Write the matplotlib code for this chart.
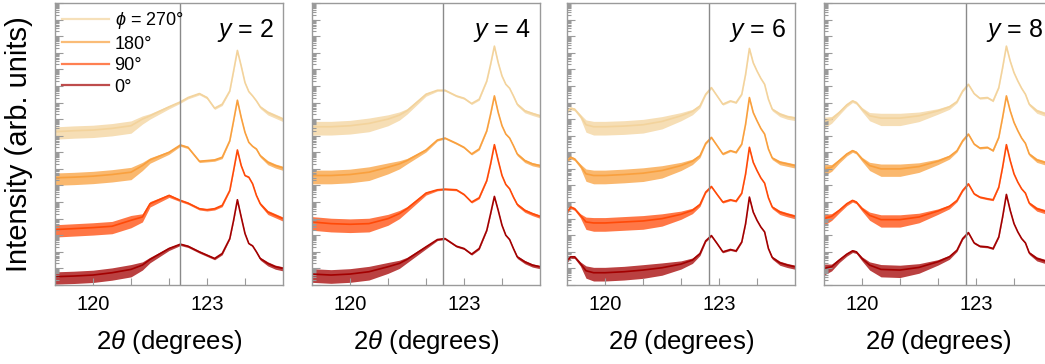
import numpy as np
import matplotlib
matplotlib.use('Agg')
import matplotlib.pyplot as plt
from matplotlib.ticker import LogLocator, NullFormatter, FixedLocator
from matplotlib.lines import Line2D

plt.rcParams['font.family'] = ['Liberation Sans', 'DejaVu Sans']
plt.rcParams['mathtext.fontset'] = 'custom'
plt.rcParams['mathtext.it'] = 'Liberation Sans:italic'
plt.rcParams['mathtext.rm'] = 'Liberation Sans'

phi_labels = [r'$\phi$ = 270°', '180°', '90°', '0°']
colors = ['#F3D39C', '#F9A03E', '#FF4A08', '#A30000']
y_values = [2, 4, 6, 8]
ref_lines = [122.28, 122.44, 122.74, 122.74]

# 2theta grids (degrees)
two_theta_a = [119.0, 119.5, 120.0, 120.5, 121.0, 121.3, 121.5, 122.0, 122.3, 122.5,
               122.8, 123.0, 123.2, 123.4, 123.6, 123.7, 123.8, 123.9, 124.0, 124.1,
               124.2, 124.3, 124.4, 124.6, 124.8, 125.0]
two_theta_b = [119.0, 119.1, 119.2, 119.35, 119.5, 119.7, 120.0, 120.5, 121.0, 121.5,
               122.0, 122.3, 122.5, 122.65, 122.8, 122.95, 123.1, 123.3, 123.45, 123.6,
               123.7, 123.8, 123.9, 124.0, 124.1, 124.2, 124.3, 124.4, 124.6, 124.8, 125.0]
two_theta_c = [119.0, 119.2, 119.4, 119.6, 119.75, 119.85, 120.0, 120.2, 120.5, 121.0,
               121.5, 122.0, 122.3, 122.5, 122.65, 122.8, 122.95, 123.1, 123.3, 123.45,
               123.6, 123.7, 123.8, 123.9, 124.0, 124.1, 124.2, 124.3, 124.4, 124.6,
               124.8, 125.0]

# log10 intensity (offset stacks), phi = 270, 180, 90, 0
y2_270 = [9.24, 9.30, 9.34, 9.44, 9.60, 10.00, 10.20, 10.74, 11.04, 11.30, 11.54, 11.30, 10.66,
          10.90, 11.70, 12.90, 14.14, 13.20, 12.20, 11.66, 11.40, 11.10, 10.74, 10.40, 10.20, 10.00]
y2_180 = [6.46, 6.50, 6.56, 6.66, 6.80, 7.20, 7.54, 8.00, 8.44, 8.30, 7.46, 7.50, 7.54,
          7.70, 8.70, 9.90, 11.14, 10.10, 9.20, 8.60, 8.36, 8.20, 7.80, 7.40, 7.20, 7.06]
y2_90 = [3.34, 3.40, 3.46, 3.54, 3.90, 4.10, 4.90, 5.40, 5.10, 4.94, 4.60, 4.54, 4.60,
         4.80, 5.70, 6.90, 8.14, 7.20, 6.60, 6.50, 6.10, 5.40, 4.90, 4.40, 4.20, 4.00]
y2_0 = [0.50, 0.54, 0.60, 0.74, 0.94, 1.20, 1.54, 2.20, 2.46, 2.34, 2.00, 1.80, 1.60,
        1.90, 2.80, 3.90, 5.14, 4.10, 3.10, 2.50, 2.36, 2.00, 1.60, 1.30, 1.10, 1.00]
noise_y2 = [0.45, 0.45, 0.45, 0.45, 0.45, 0.3, 0.2, 0.12, 0.08, 0.08, 0.08, 0.08, 0.08,
            0.08, 0.04, 0.04, 0.04, 0.04, 0.04, 0.04, 0.04, 0.06, 0.1, 0.15, 0.15, 0.15]

y4_270 = [9.54, 9.54, 9.60, 9.74, 10.00, 10.24, 10.50, 11.50, 11.74, 11.74, 11.40, 11.26, 10.94,
          11.20, 12.30, 13.30, 14.40, 13.40, 12.60, 12.10, 11.86, 11.40, 10.90, 10.50, 10.34, 10.20]
y4_180 = [6.60, 6.60, 6.66, 6.80, 7.10, 7.30, 7.50, 8.14, 8.74, 8.86, 8.54, 8.30, 7.90,
          8.20, 9.30, 10.30, 11.40, 10.40, 9.60, 9.10, 8.86, 8.40, 7.90, 7.50, 7.30, 7.20]
y4_90 = [3.80, 3.70, 3.66, 3.70, 4.00, 4.30, 4.60, 5.54, 5.74, 5.78, 5.74, 5.46, 5.00,
         5.26, 6.30, 7.30, 8.46, 7.50, 6.60, 6.06, 5.80, 5.30, 4.86, 4.50, 4.30, 4.14]
y4_0 = [0.66, 0.60, 0.66, 0.80, 1.10, 1.30, 1.54, 2.30, 2.74, 2.80, 2.34, 2.20, 1.86,
        2.20, 3.30, 4.30, 5.34, 4.50, 3.60, 3.00, 2.74, 2.20, 1.70, 1.40, 1.20, 1.10]
noise_y4 = [0.5, 0.5, 0.5, 0.5, 0.4, 0.3, 0.2, 0.12, 0.06, 0.06, 0.06, 0.06, 0.06,
            0.06, 0.04, 0.04, 0.04, 0.04, 0.04, 0.04, 0.04, 0.06, 0.1, 0.12, 0.12, 0.12]

y6_270 = [10.46, 10.66, 10.60, 10.20, 9.66, 9.54, 9.54, 9.58, 9.66, 9.86, 10.20, 10.46, 10.80,
          11.50, 11.90, 11.40, 10.90, 11.10, 11.00, 11.50, 12.70, 14.26, 13.40, 12.90, 12.46,
          12.10, 11.20, 10.60, 10.30, 10.14, 10.06]
y6_180 = [7.50, 7.70, 7.60, 7.20, 6.70, 6.60, 6.60, 6.66, 6.74, 6.90, 7.20, 7.46, 7.80,
          8.54, 8.90, 8.40, 7.90, 8.10, 8.00, 8.50, 9.70, 11.30, 10.40, 9.90, 9.44,
          9.10, 8.20, 7.66, 7.40, 7.30, 7.20]
y6_90 = [4.40, 4.70, 4.60, 4.20, 3.80, 3.74, 3.74, 3.80, 3.86, 4.00, 4.26, 4.50, 4.86,
         5.60, 5.94, 5.46, 5.00, 5.14, 5.06, 5.54, 6.70, 8.30, 7.40, 6.90, 6.46,
         6.14, 5.26, 4.70, 4.40, 4.26, 4.14]
y6_0 = [1.46, 1.70, 1.70, 1.30, 0.86, 0.74, 0.74, 0.80, 0.90, 1.04, 1.26, 1.50, 1.90,
        2.66, 2.98, 2.50, 2.00, 2.14, 2.06, 2.60, 3.70, 5.30, 4.40, 3.90, 3.50,
        3.20, 2.20, 1.66, 1.34, 1.20, 1.10]
noise_y6 = [0.1, 0.1, 0.1, 0.15, 0.45, 0.5, 0.5, 0.5, 0.5, 0.45, 0.3, 0.2, 0.12,
            0.06, 0.06, 0.06, 0.06, 0.06, 0.06, 0.04, 0.04, 0.04, 0.04, 0.04, 0.04,
            0.04, 0.06, 0.1, 0.15, 0.15, 0.15]

y8_270 = [9.86, 10.00, 10.40, 10.86, 11.10, 11.00, 10.60, 10.20, 10.06, 10.06, 10.20, 10.50,
          10.74, 11.06, 11.70, 12.10, 11.54, 11.26, 11.30, 11.10, 11.90, 13.10, 14.40, 13.50,
          12.80, 12.30, 11.86, 11.50, 10.90, 10.50, 10.34, 10.26]
y8_180 = [7.00, 7.10, 7.50, 7.90, 8.10, 8.00, 7.60, 7.20, 7.00, 7.00, 7.14, 7.46,
          7.74, 8.10, 8.70, 9.10, 8.50, 8.26, 8.30, 8.10, 8.90, 10.10, 11.40, 10.50,
          9.80, 9.30, 8.86, 8.54, 7.90, 7.54, 7.40, 7.20]
y8_90 = [4.00, 4.14, 4.50, 4.90, 5.10, 5.00, 4.60, 4.20, 3.94, 3.94, 4.10, 4.46,
         4.74, 5.10, 5.70, 6.10, 5.50, 5.30, 5.20, 5.14, 5.90, 7.10, 8.46, 7.50,
         6.70, 6.20, 5.80, 5.54, 4.94, 4.60, 4.46, 4.40]
y8_0 = [1.00, 1.10, 1.50, 1.86, 2.06, 2.00, 1.60, 1.20, 0.94, 0.90, 1.06, 1.40,
        1.70, 2.10, 2.80, 3.16, 2.54, 2.34, 2.30, 2.20, 2.90, 4.10, 5.46, 4.50,
        3.70, 3.20, 2.80, 2.54, 1.94, 1.60, 1.46, 1.40]
noise_y8 = [0.4, 0.25, 0.15, 0.12, 0.1, 0.1, 0.15, 0.3, 0.45, 0.45, 0.35, 0.2,
            0.15, 0.08, 0.06, 0.06, 0.06, 0.06, 0.06, 0.06, 0.04, 0.04, 0.04, 0.04,
            0.04, 0.04, 0.04, 0.06, 0.1, 0.15, 0.15, 0.15]

panels = [
    (two_theta_a, [y2_270, y2_180, y2_90, y2_0], noise_y2),
    (two_theta_a, [y4_270, y4_180, y4_90, y4_0], noise_y4),
    (two_theta_b, [y6_270, y6_180, y6_90, y6_0], noise_y6),
    (two_theta_c, [y8_270, y8_180, y8_90, y8_0], noise_y8),
]

W, H = 1045, 364
fig = plt.figure(figsize=(W / 100, H / 100), dpi=100)
lefts = [55, 312, 567, 824]
axw, top, bot = 228, 3, 285
spine_c = '#9a9a9a'

for i, (x, traces, noise) in enumerate(panels):
    ax = fig.add_axes([lefts[i] / W, 1 - bot / H, axw / W, (bot - top) / H])
    x = np.array(x)
    nz = np.array(noise)
    for vals, c in zip(traces, colors):
        v = np.array(vals)
        # noise envelope around the measured curve
        ax.fill_between(x, 10 ** (v - 1.0 * nz), 10 ** (v + 0.65 * nz), color=c, alpha=0.75, lw=0)
        ax.plot(x, 10 ** v, color=c, lw=1.2)
    ax.axvline(ref_lines[i], color='#8a8a8a', lw=1.0)
    ax.set_yscale('log')
    ax.set_ylim(1, 1e17)
    ax.set_xlim(119, 125)
    ax.yaxis.set_major_locator(LogLocator(base=10, numticks=40))
    ax.yaxis.set_minor_locator(LogLocator(base=10, subs=np.arange(2, 10), numticks=40))
    ax.yaxis.set_major_formatter(NullFormatter())
    ax.yaxis.set_minor_formatter(NullFormatter())
    ax.xaxis.set_major_locator(FixedLocator([120, 123]))
    ax.xaxis.set_minor_locator(FixedLocator([121, 122, 124]))
    ax.tick_params(axis='both', which='both', direction='in', color=spine_c, width=0.8)
    ax.tick_params(axis='y', which='major', length=6)
    ax.tick_params(axis='y', which='minor', length=3)
    ax.tick_params(axis='x', which='both', length=5, labelsize=14.5, pad=7)
    ax.tick_params(right=False, top=False)
    for s in ax.spines.values():
        s.set_color(spine_c)
        s.set_linewidth(1.0)
    ax.set_xlabel(r'2$\it{\theta}$ (degrees)', fontsize=18.5, labelpad=10)
    ax.text(0.96, 0.95, r'$y$ = %d' % y_values[i], transform=ax.transAxes,
            ha='right', va='top', fontsize=18)
    if i == 0:
        ax.set_ylabel('Intensity (arb. units)', fontsize=21, labelpad=12)
        handles = [Line2D([], [], color=c, lw=1.6, alpha=0.7) for c in colors]
        ax.legend(handles, phi_labels, loc='upper left', frameon=False, fontsize=13,
                  handlelength=2.6, labelspacing=0.25, borderaxespad=0.1, handletextpad=0.3,
                  borderpad=0.3)

fig.savefig('out.png', dpi=100)
